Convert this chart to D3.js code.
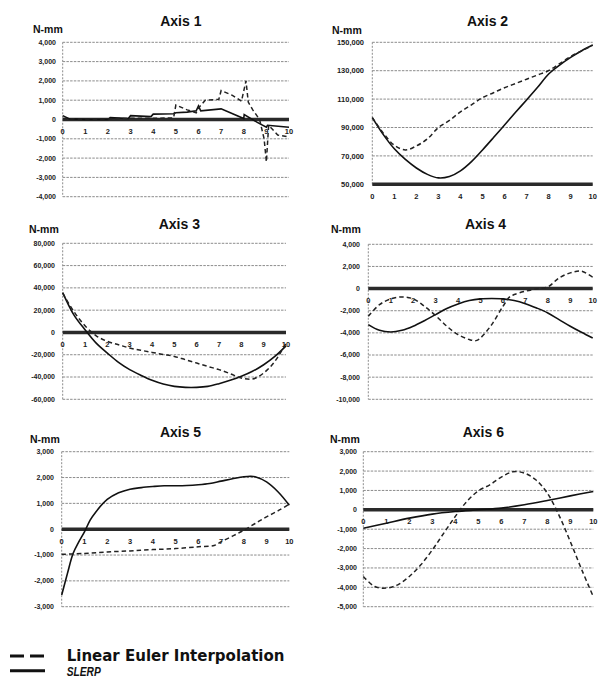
<!DOCTYPE html>
<html><head><meta charset="utf-8">
<script src="https://cdn.jsdelivr.net/npm/d3@7"></script>
<style>body{margin:0;background:#fff}</style>
</head><body><svg id="c" width="603" height="693"></svg>
<script>
// ---------- DATA ----------
const titles = ["Axis 1","Axis 2","Axis 3","Axis 4","Axis 5","Axis 6"];
const unitLabel = "N-mm";
const xTicks = [0,1,2,3,4,5,6,7,8,9,10];
const xHalf = [0,0.5,1,1.5,2,2.5,3,3.5,4,4.5,5,5.5,6,6.5,7,7.5,8,8.5,9,9.5,10];
const xInt = [0,1,2,3,4,5,6,7,8,9,10];
const legendLabels = ["Linear Euler Interpolation","SLERP"];

// y tick values per panel
const yTicks1 = [-4000,-3000,-2000,-1000,0,1000,2000,3000,4000];
const yTicks2 = [50000,70000,90000,110000,130000,150000];
const yTicks3 = [-60000,-40000,-20000,0,20000,40000,60000,80000];
const yTicks4 = [-10000,-8000,-6000,-4000,-2000,0,2000,4000];
const yTicks5 = [-3000,-2000,-1000,0,1000,2000,3000];
const yTicks6 = [-5000,-4000,-3000,-2000,-1000,0,1000,2000,3000];

// Axis 1
const a1LinX = [0,1,2,3,4,4.9,5,5.5,5.9,6,6.3,6.9,7,7.5,7.9,8.1,8.2,8.4,8.7,8.9,9.0,9.1,9.5,10];
const a1LinY = [50,20,30,60,60,80,750,500,350,600,1000,1050,1500,1250,950,2000,900,500,0,-1000,-2200,-300,-800,-900];
const a1SlX = [0,0.3,1,2,2.1,2.9,3,3.9,4,4.9,5,5.5,5.9,6,6.1,7,8,8.02,8.6,9,9.05,10];
const a1SlY = [200,30,0,0,100,50,200,150,280,300,350,380,450,700,450,550,50,250,-150,-400,-300,-400];

// Axis 2 (x = xHalf)
const a2Lin = [97000,86000,77500,74200,77000,82000,90000,95000,101000,106000,111000,114500,118000,121000,124000,127000,130000,135000,140000,144000,148000];
const a2Sl  = [97000,85000,75000,67500,61500,57000,54500,55500,59500,66000,74200,82900,91800,100700,109400,118300,127700,134000,139400,144100,148100];

// Axis 3 (x = xHalf)
const a3Lin = [35200,18800,6000,-3000,-8000,-11000,-14000,-16000,-17900,-19700,-21500,-24500,-27500,-30500,-33400,-37000,-40900,-41800,-36400,-26000,-9600];
const a3Sl  = [35800,15800,2400,-9600,-18500,-26900,-33400,-38500,-43000,-46300,-48400,-49300,-49300,-48400,-46000,-43000,-39400,-34900,-29000,-21500,-12000];

// Axis 4
const a4LinX = [0,0.5,1,1.5,2,2.5,3,3.5,4,4.5,4.8,5,5.5,6,6.3,6.5,7,7.5,8,8.5,9,9.5,10];
const a4LinY = [-2500,-1450,-930,-750,-930,-1600,-2440,-3400,-4160,-4600,-4700,-4460,-3250,-1600,-750,-540,-240,-30,150,960,1420,1570,1020];
const a4Sl  = [-3250,-3770,-3920,-3770,-3400,-2900,-2350,-1800,-1390,-1080,-930,-900,-930,-1080,-1360,-1750,-2200,-2800,-3400,-3950,-4460];

// Axis 5
const a5LinX = [0,1,2,3,4,5,6,6.7,7,7.5,8,8.5,9,9.5,10];
const a5LinY = [-970,-940,-880,-840,-790,-750,-680,-630,-490,-270,-40,220,480,710,970];
const a5SlX = [0,0.25,0.5,0.75,1,1.25,1.5,2,2.5,3,3.5,4,4.5,5,5.5,6,6.5,7,7.5,8,8.3,8.5,9,9.5,10];
const a5SlY = [-2550,-1720,-940,-490,-100,350,670,1150,1410,1550,1610,1650,1680,1680,1690,1720,1770,1860,1950,2030,2050,2030,1830,1450,930];

// Axis 6
const a6Lin = [-3440,-3960,-4040,-3870,-3440,-2840,-2070,-1200,-340,430,980,1290,1690,1960,1900,1550,860,-260,-1640,-3100,-4480];
const a6Sl  = [-950,-690,-430,-220,-90,0,90,260,480,720,950];

// ---------- LAYOUT ----------
const panels = [
  {t:0, L:62.7, R:289, T:42.3, B:196.7, dom:[-4000,4000], ticks:yTicks1, base:0, tickR:56, tfs:7, nx:33, ny:32.5, ty:26, curve:d3.curveLinear,
   lin:[a1LinX,a1LinY], sl:[a1SlX,a1SlY]},
  {t:1, L:372.3, R:592.7, T:42.3, B:184.3, dom:[50000,150000], ticks:yTicks2, base:50000, tickR:364, tfs:7.5, nx:332, ny:34, ty:26, curve:d3.curveCatmullRom,
   lin:[xHalf,a2Lin], sl:[xHalf,a2Sl]},
  {t:2, L:62.7, R:286, T:243.3, B:399.3, dom:[-60000,80000], ticks:yTicks3, base:0, tickR:55, tfs:7, nx:29, ny:233, ty:229, curve:d3.curveCatmullRom,
   lin:[xHalf,a3Lin], sl:[xHalf,a3Sl]},
  {t:3, L:368.3, R:592.7, T:244.3, B:399.3, dom:[-10000,4000], ticks:yTicks4, base:0, tickR:360, tfs:7, nx:331, ny:233, ty:229, curve:d3.curveCatmullRom,
   lin:[a4LinX,a4LinY], sl:[xHalf,a4Sl]},
  {t:4, L:61.7, R:289.3, T:451.7, B:606.7, dom:[-3000,3000], ticks:yTicks5, base:0, tickR:54, tfs:7, nx:30, ny:443, ty:437, curve:d3.curveCatmullRom,
   lin:[a5LinX,a5LinY], sl:[a5SlX,a5SlY]},
  {t:5, L:363.3, R:593.3, T:451.7, B:606.7, dom:[-5000,3000], ticks:yTicks6, base:0, tickR:357, tfs:7, nx:330, ny:443, ty:437, curve:d3.curveCatmullRom,
   lin:[xHalf,a6Lin], sl:[xInt,a6Sl]}
];

const svg = d3.select("#c");
const fmt = v => d3.format(",")(v).replace("\u2212","-");
const FONT = "'Liberation Sans', Arial, sans-serif";
const WIDE = "'DejaVu Sans', Verdana, sans-serif";

panels.forEach(p => {
  const g = svg.append("g");
  const x = d3.scaleLinear().domain([0,10]).range([p.L,p.R]);
  const y = d3.scaleLinear().domain(p.dom).range([p.B,p.T]);

  // gridlines
  g.selectAll("line.grid").data(p.ticks).join("line")
    .attr("x1",p.L).attr("x2",p.R).attr("y1",d=>y(d)).attr("y2",d=>y(d))
    .attr("stroke","#8c8c8c").attr("stroke-width",1).attr("stroke-dasharray","2.5,1.2");
  // left axis (dotted)
  g.append("line").attr("x1",p.L).attr("x2",p.L).attr("y1",p.T).attr("y2",p.B)
    .attr("stroke","#8c8c8c").attr("stroke-width",1).attr("stroke-dasharray","2,1.5");

  // y tick labels
  g.selectAll("text.yt").data(p.ticks).join("text")
    .attr("x",p.tickR).attr("y",d=>y(d)).attr("dy","0.35em")
    .attr("text-anchor","end").attr("font-family",FONT).attr("font-size",p.tfs)
    .attr("font-weight","bold").attr("fill","#222").text(fmt);

  // thick base (x axis) line
  g.append("line").attr("x1",p.L).attr("x2",p.R).attr("y1",y(p.base)).attr("y2",y(p.base))
    .attr("stroke","#2a2a2a").attr("stroke-width",3.5);

  // x tick labels
  g.selectAll("text.xt").data(xTicks).join("text")
    .attr("x",d=>x(d)).attr("y",y(p.base)+12).attr("dy","0.35em")
    .attr("text-anchor","middle").attr("font-family",FONT).attr("font-size",7.5)
    .attr("font-weight","bold").attr("fill","#222").text(d=>d);

  // series
  const mk = (xs,ys) => xs.map((v,i)=>[v,ys[i]]);
  const line = d3.line().x(d=>x(d[0])).y(d=>y(d[1])).curve(p.curve);
  g.append("path").attr("d",line(mk(p.sl[0],p.sl[1])))
    .attr("fill","none").attr("stroke","#111").attr("stroke-width",1.6);
  g.append("path").attr("d",line(mk(p.lin[0],p.lin[1])))
    .attr("fill","none").attr("stroke","#222").attr("stroke-width",1.5).attr("stroke-dasharray","4.5,3");

  // title
  g.append("text").attr("x",(p.L+p.R)/2+5).attr("y",p.ty).attr("text-anchor","middle")
    .attr("font-family",FONT).attr("font-size",14).attr("font-weight","bold").attr("fill","#111")
    .text(titles[p.t]);
  // unit label
  g.append("text").attr("x",p.nx).attr("y",p.ny).attr("font-family",FONT).attr("font-size",10.5)
    .attr("font-weight","bold").attr("fill","#111").text(unitLabel);
});

// legend
const lg = svg.append("g");
lg.append("line").attr("x1",10).attr("x2",44).attr("y1",656).attr("y2",656)
  .attr("stroke","#111").attr("stroke-width",3).attr("stroke-dasharray","14,6");
lg.append("text").attr("x",66.7).attr("y",661).attr("font-family",WIDE).attr("font-size",15)
  .attr("font-weight","bold").attr("fill","#111")
  .text(legendLabels[0]);
lg.append("line").attr("x1",10).attr("x2",45).attr("y1",670.7).attr("y2",670.7)
  .attr("stroke","#111").attr("stroke-width",3);
lg.append("text").attr("x",66.7).attr("y",675.5).attr("font-family",FONT).attr("font-size",12.5)
  .attr("font-weight","bold").attr("font-style","italic").attr("fill","#111")
  .attr("textLength",34).attr("lengthAdjust","spacingAndGlyphs")
  .text(legendLabels[1]);
</script></body></html>
